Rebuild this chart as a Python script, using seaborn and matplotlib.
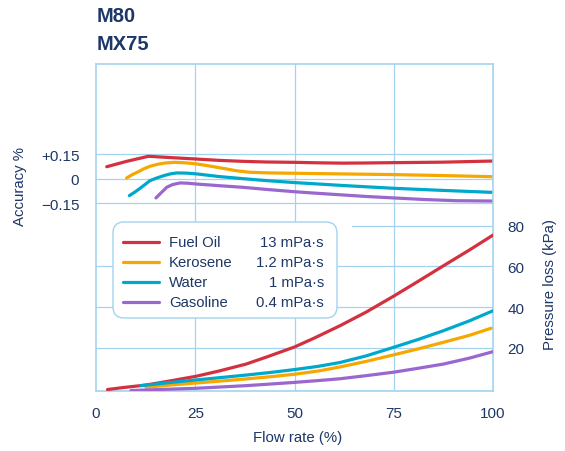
import matplotlib
matplotlib.use("Agg")
import matplotlib.pyplot as plt
import seaborn as sns
from matplotlib.patches import FancyBboxPatch
from matplotlib.lines import Line2D

# ---------------- data ----------------
fluids = ["Fuel Oil", "Kerosene", "Water", "Gasoline"]
viscosities = ["13 mPa·s", "1.2 mPa·s", "1 mPa·s", "0.4 mPa·s"]
colors = ["#d3313f", "#f7a800", "#00a8cc", "#9a67cf"]

# accuracy curves (flow %, accuracy %)
acc_flow_fuel = [2.7, 7.7, 13.2, 19.5, 25.4, 31, 37, 43, 50, 56, 62, 68, 75, 87.5, 100]
acc_fuel = [0.075, 0.108, 0.139, 0.130, 0.122, 0.114, 0.108, 0.104, 0.102, 0.099,
            0.097, 0.098, 0.100, 0.103, 0.110]

acc_flow_kero = [7.7, 9, 10.7, 12, 13.6, 15.5, 17.5, 19.9, 22.5, 25.4, 28.5, 32, 35.5,
                 38.8, 44, 50, 62, 75, 87.5, 100]
acc_kero = [0.006, 0.025, 0.045, 0.062, 0.078, 0.090, 0.098, 0.102, 0.099, 0.092, 0.080,
            0.065, 0.050, 0.041, 0.037, 0.035, 0.031, 0.027, 0.021, 0.014]

acc_flow_water = [8.4, 9.8, 11.1, 12.4, 13.6, 15.3, 17, 18.7, 20.3, 22.8, 25.4, 31, 37,
                  43, 50, 62.3, 75, 87.5, 100]
acc_water = [-0.102, -0.080, -0.057, -0.033, -0.010, 0.006, 0.020, 0.031, 0.037, 0.036,
             0.031, 0.015, 0.002, -0.010, -0.022, -0.040, -0.057, -0.070, -0.082]

acc_flow_gas = [15.1, 15.8, 16.5, 17.2, 17.8, 19.3, 21.2, 23.2, 25.4, 31, 37, 43, 50, 56,
                62.3, 68, 75, 83, 90.9, 100]
acc_gas = [-0.116, -0.099, -0.082, -0.066, -0.051, -0.034, -0.024, -0.026, -0.031, -0.041,
           -0.051, -0.064, -0.078, -0.088, -0.098, -0.107, -0.116, -0.126, -0.133, -0.135]

# pressure loss curves (flow %, kPa)
p_flow_fuel = [2.9, 7, 12.6, 18, 25.2, 31, 37.8, 43, 50, 55, 61.5, 68, 74.9, 81, 87.5, 94, 100]
p_fuel = [-0.5, 0.5, 1.7, 3.5, 6.0, 8.6, 12.0, 15.5, 20.4, 24.8, 30.9, 37.5, 45.3, 52.5,
          60.3, 68.0, 75.4]

p_flow_kero = [12.6, 18, 25.2, 31, 37.8, 44, 50, 56, 61.5, 68, 74.9, 81, 87.5, 94, 99.5]
p_kero = [0.6, 1.6, 2.7, 3.6, 4.7, 5.8, 7.0, 8.6, 10.6, 13.3, 16.5, 19.4, 22.7, 26.1, 29.6]

p_flow_water = [11.3, 18, 25.2, 31, 37.8, 44, 50, 56, 61.5, 68, 74.9, 81, 87.5, 94, 100]
p_water = [1.4, 2.8, 4.2, 5.3, 6.6, 7.9, 9.3, 10.9, 12.8, 16.0, 20.2, 24.0, 28.4, 33.2, 38.2]

p_flow_gas = [8.8, 16, 25.2, 31, 37.8, 44, 50, 56, 61.5, 68, 74.9, 81, 87.5, 94, 100]
p_gas = [-1.0, -0.5, 0.1, 0.7, 1.4, 2.2, 3.0, 3.9, 4.8, 6.3, 8.0, 9.9, 12.0, 14.9, 18.1]

x_ticks = [0, 25, 50, 75, 100]
acc_ticks = [0.15, 0, -0.15]
acc_tick_labels = ["+0.15", "0", "\u22120.15"]
p_ticks = [20, 40, 60, 80]

# ---------------- style ----------------
sns.set_style("white")
plt.rcParams["font.family"] = ["Liberation Sans", "DejaVu Sans"]

W, H = 565, 452
text_c = "#1d3767"
grid_c = "#a3d3ef"

def fx(px):
    return px / W

def fy(py):
    return 1 - py / H

fig = plt.figure(figsize=(W / 100, H / 100), dpi=100)
ax = fig.add_axes([fx(96), fy(392), (493 - 96) / W, (392 - 65) / H])
ax2 = ax.twinx()
ax.patch.set_alpha(0)

ax.set_xlim(0, 100)
ax.set_ylim(-1.298, 0.704)
ax2.set_ylim(-1.23, 159.5)

# grid
for v in [25, 50, 75]:
    ax.axvline(v, color=grid_c, lw=0.9, zorder=0)
for v in acc_ticks:
    ax.axhline(v, color=grid_c, lw=0.9, zorder=0)
for v in [20, 40, 60]:
    ax2.axhline(v, color=grid_c, lw=0.9, zorder=0)
ax2.axhline(80, xmin=0.645, color=grid_c, lw=0.9, zorder=0)

# accuracy curves
acc_sets = [(acc_flow_fuel, acc_fuel), (acc_flow_kero, acc_kero),
            (acc_flow_water, acc_water), (acc_flow_gas, acc_gas)]
for (fxs, ys), c in zip(acc_sets, colors):
    sns.lineplot(x=fxs, y=ys, ax=ax, color=c, lw=2.3, legend=False, zorder=3)

# pressure curves
p_sets = [(p_flow_fuel, p_fuel), (p_flow_kero, p_kero),
          (p_flow_water, p_water), (p_flow_gas, p_gas)]
for (fxs, ys), c in zip(p_sets, colors):
    sns.lineplot(x=fxs, y=ys, ax=ax2, color=c, lw=2.3, legend=False, zorder=3)

# ticks
ax.set_xticks(x_ticks)
ax.set_xticklabels([str(t) for t in x_ticks])
ax.set_yticks(acc_ticks)
ax.set_yticklabels(acc_tick_labels)
ax2.set_yticks(p_ticks)
ax2.set_yticklabels([str(t) for t in p_ticks])
ax.tick_params(axis="x", length=0, pad=11, labelsize=11, labelcolor=text_c)
ax.tick_params(axis="y", length=0, pad=12, labelsize=11, labelcolor=text_c)
ax2.tick_params(axis="y", length=0, pad=10.5, labelsize=11, labelcolor=text_c)

# spines
for sp in ax.spines.values():
    sp.set_visible(False)
for sp in ax2.spines.values():
    sp.set_visible(True)
    sp.set_color(grid_c)
    sp.set_linewidth(1.2)

# axis labels
ax.set_xlabel("Flow rate (%)", fontsize=10.8, color=text_c)
ax.xaxis.set_label_coords((298 - 96) / 397, (392 - 431) / 327)
ax.set_ylabel("Accuracy %", fontsize=10.8, color=text_c)
ax.yaxis.set_label_coords((27 - 96) / 397, (392 - 186) / 327)
ax2.set_ylabel("Pressure loss (kPa)", fontsize=10.8, color=text_c)
ax2.yaxis.set_label_coords((543 - 96) / 397, (392 - 285) / 327)

# legend box
box = FancyBboxPatch((fx(113), fy(319)), fx(337) - fx(113), fy(223) - fy(319),
                     boxstyle="round,pad=0,rounding_size=%f" % (11 / W),
                     mutation_aspect=W / H, transform=fig.transFigure,
                     facecolor="white", edgecolor=grid_c, lw=1.0,
                     zorder=10, clip_on=False)
ax2.add_artist(box)
rows = [243, 263, 283, 303]
for name, visc, c, r in zip(fluids, viscosities, colors, rows):
    ln = Line2D([fx(123), fx(158.5)], [fy(r), fy(r)], transform=fig.transFigure,
                color=c, lw=2.3, zorder=11, clip_on=False)
    ax2.add_artist(ln)
    fig.text(fx(169), fy(r), name, ha="left", va="center", fontsize=10.7,
             color=text_c, zorder=12)
    fig.text(fx(324), fy(r), visc, ha="right", va="center", fontsize=10.7,
             color=text_c, zorder=12)

# titles
fig.text(fx(97), fy(17), "M80", ha="left", va="center", fontsize=14.5,
         fontweight="bold", color=text_c)
fig.text(fx(97), fy(45), "MX75", ha="left", va="center", fontsize=14.5,
         fontweight="bold", color=text_c)

fig.savefig("out.png", dpi=100)
